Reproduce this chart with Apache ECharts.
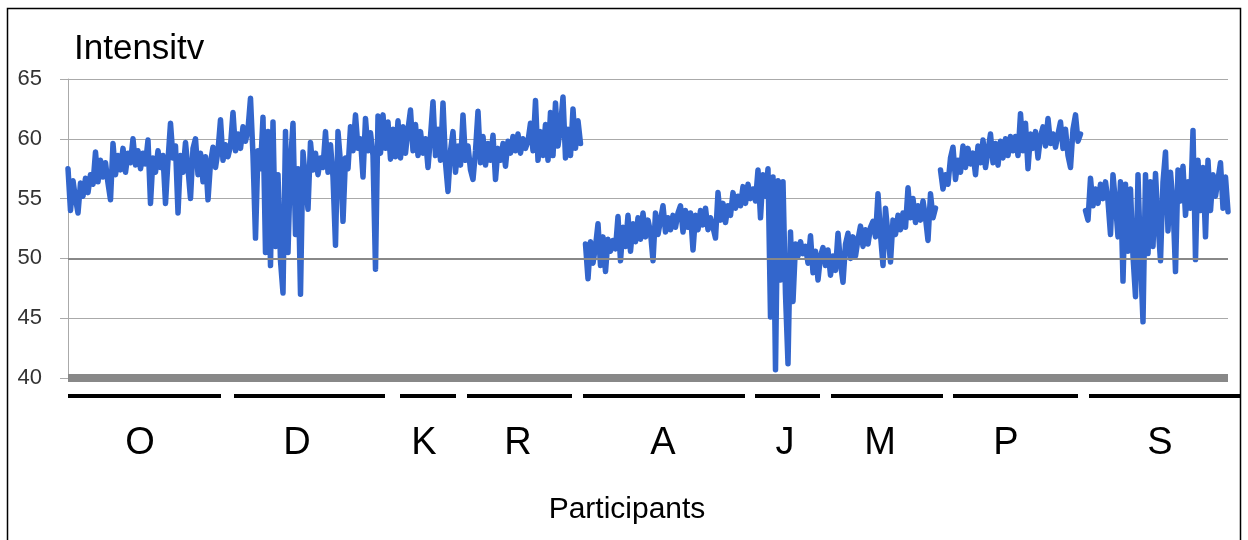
<!DOCTYPE html>
<html>
<head>
    <meta charset="utf-8">
    <title>Intensity</title>
    <script src="https://cdn.jsdelivr.net/npm/echarts@6/dist/echarts.min.js"></script>
    <style>
        html, body { margin: 0; padding: 0; background: #fff; }
        #main { width: 1248px; height: 540px; }
    </style>
</head>
<body>
<div id="main"></div>
<script type="text/javascript">

    // intensity per sample, one array per participant (null = gap between recordings)
    var oValues = [57.5, 54.0, 56.5, 55.0, 53.8, 56.3, 55.2, 56.7, 55.5, 57.0,
        56.2, 58.9, 56.4, 58.2, 56.8, 58.0, 56.3, 54.9, 59.6, 57.0,
        58.6, 57.4, 59.2, 57.2, 58.8, 58.0, 60.0, 57.8, 59.0, 57.5,
        58.8, 57.9, 59.9, 54.6, 58.4, 57.2, 59.0, 57.6, 58.6, 54.6,
        58.2, 61.3, 58.4, 59.4, 53.8, 58.6, 57.2, 59.7, 57.5, 55.0,
        59.2, 60.0, 57.0, 58.8, 56.4, 58.5, 54.9, 58.0, 59.3, 57.6,
        59.0, 61.6, 58.2, 59.5];
    var dValues = [58.5, 59.4, 62.2, 59.0, 60.4, 59.2, 61.0, 59.8, 60.8, 63.4,
        58.6, 51.7, 59.0, 57.5, 61.8, 50.5, 60.6, 49.4, 61.4, 51.0,
        57.0, 49.8, 47.1, 60.6, 50.5, 58.0, 61.3, 52.0, 57.5, 47.0,
        58.9, 56.5, 54.1, 59.7, 57.4, 58.8, 57.0, 58.4, 57.6, 60.6,
        57.2, 59.5, 56.8, 51.1, 60.6, 58.0, 53.1, 58.4, 57.5, 61.0,
        59.0, 62.0, 59.2, 60.0, 56.8, 61.7, 59.0, 60.5, 58.6, 49.1,
        61.9, 58.8, 62.0, 59.2, 61.4, 58.3, 60.8, 58.5];
    var kValues = [61.5, 58.4, 61.0, 58.8, 60.8, 62.4, 59.0, 61.2, 58.6, 60.6,
        58.8, 60.0, 57.6, 60.2, 63.1, 58.6, 60.8, 58.2, 63.0, 58.0,
        55.6, 59.0, 60.6, 57.2, 59.4, 57.8];
    var rValues = [62.0, 58.2, 59.4, 57.4, 56.6, 59.0, 62.3, 58.0, 60.2, 57.8,
        59.6, 58.2, 60.3, 56.6, 59.2, 58.2, 59.6, 57.7, 59.8, 58.8,
        60.2, 59.0, 60.4, 58.8, 60.0, 59.2, 59.8, 61.3, 59.0, 63.2,
        58.2, 60.6, 58.6, 61.2, 58.2, 62.2, 58.6, 63.0, 59.4, 61.0,
        63.5, 58.4, 60.8, 58.6, 62.5, 59.2, 61.5, 59.6];
    var aValues = [51.2, 48.3, 51.4, 49.6, 51.0, 52.9, 49.4, 51.8, 48.9, 51.6,
        50.6, 51.5, 50.8, 53.5, 49.8, 52.6, 51.0, 53.6, 50.6, 52.9,
        51.4, 53.4, 51.6, 53.8, 51.8, 53.2, 52.2, 49.8, 53.8, 52.0,
        53.2, 54.4, 52.2, 53.4, 52.4, 53.6, 52.6, 53.8, 54.4, 52.2,
        54.0, 52.6, 53.8, 50.7, 53.6, 52.4, 54.0, 52.8, 54.2, 52.4,
        53.4, 52.6, 51.7, 55.5, 53.2, 54.6, 53.0, 54.4, 53.6, 55.5,
        54.2, 55.2, 54.4, 56.0, 54.6, 56.2, 55.0, 55.8];
    var jValues = [54.8, 57.4, 53.4, 57.0, 55.2, 57.5, 45.1, 56.8, 40.7, 56.5,
        48.2, 56.4, 47.0, 41.2, 52.2, 46.4, 51.2, 50.2, 51.4, 50.4,
        51.0, 49.6, 51.9, 48.8, 50.6, 48.2, 50.2, 50.9];
    var mValues = [49.4, 50.7, 48.6, 50.2, 49.0, 52.1, 49.6, 48.0, 51.2, 52.1,
        50.0, 51.8, 50.2, 51.6, 52.7, 51.0, 52.4, 51.2, 52.6, 53.1,
        51.8, 55.4, 52.0, 49.4, 54.2, 52.0, 49.7, 53.2, 52.0, 53.6,
        52.4, 53.8, 52.6, 55.9, 53.4, 55.0, 53.0, 54.4, 53.2, 54.8,
        53.4, 51.5, 55.4, 53.4, 54.2];
    var pValues = [57.4, 55.8, 57.0, 56.2, 58.4, 59.3, 56.6, 58.2, 57.2, 59.4,
        57.6, 59.2, 57.9, 58.8, 57.0, 59.4, 58.0, 59.9, 57.6, 59.0,
        60.4, 58.0, 59.6, 57.8, 59.8, 58.4, 60.0, 58.6, 60.2, 59.0,
        60.2, 58.6, 62.1, 59.0, 61.3, 57.5, 60.4, 59.2, 60.6, 58.4,
        60.2, 61.0, 59.4, 61.7, 59.6, 60.4, 59.3, 60.4, 61.4, 59.2,
        60.8, 58.6, 57.6, 60.8, 62.0, 59.8, 60.4];
    var sValues = [54.0, 53.2, 56.7, 54.4, 55.8, 54.6, 56.2, 55.0, 56.4, 54.8,
        52.0, 57.0, 54.6, 51.8, 56.4, 48.1, 56.2, 50.6, 55.8, 50.2,
        46.8, 57.0, 50.0, 44.7, 57.0, 50.4, 56.4, 51.0, 57.1, 53.0,
        49.8, 56.4, 58.9, 52.3, 57.2, 54.6, 48.9, 57.4, 54.8, 57.7,
        53.6, 56.4, 54.2, 60.7, 49.9, 58.2, 54.0, 57.6, 51.8, 58.2,
        54.0, 57.0, 55.2, 56.6, 58.0, 54.2, 56.8, 53.9];

    // participant brackets under the axis, in sample index units
    var participants = ['O', 'D', 'K', 'R', 'A', 'J', 'M', 'P', 'S'];
    var bracketStart = [0, 66.4, 132.8, 159.6, 206, 274.8, 305.2, 354, 408.4];
    var bracketEnd = [61.2, 126.8, 155.2, 201.6, 270.8, 300.8, 350, 404, 469.2];
    var labelAt = [28.8, 91.6, 142.4, 180, 238, 286.8, 324.8, 375.2, 436.8];

    var yTicks = [40, 45, 50, 55, 60, 65];

    var intensity = [].concat(oValues, dValues, kValues, rValues, [null],
        aValues, jValues, mValues, [null], pValues, [null], sValues);
    var xIndex = intensity.map(function (v, i) { return i; });
    var lastIndex = intensity.length - 1;

    var bracketData = participants.map(function (p, i) {
        return [bracketStart[i], bracketEnd[i], labelAt[i], 40];
    });

    var FONT = '"Liberation Sans", Arial, sans-serif';

    var myChart = echarts.init(document.getElementById('main'));

    var option = {
        animation: false,
        title: {
            text: 'Intensitv',
            left: 69,
            top: 27,
            textStyle: { fontFamily: FONT, fontSize: 35, fontWeight: 'normal', color: '#000' }
        },
        grid: { left: 68, right: 20, top: 79, bottom: 162 },
        xAxis: [{
            type: 'category',
            data: xIndex,
            boundaryGap: false,
            axisLine: { show: true, lineStyle: { color: '#888', width: 8, cap: 'butt' } },
            axisTick: { show: false },
            axisLabel: { show: false },
            splitLine: { show: false }
        }, {
            type: 'value',
            min: 0,
            max: lastIndex,
            show: false
        }],
        yAxis: {
            type: 'value',
            min: yTicks[0],
            max: yTicks[yTicks.length - 1],
            interval: 5,
            axisLine: { show: true, lineStyle: { color: '#aaa', width: 1 } },
            axisTick: { show: true, length: 8, lineStyle: { color: '#aaa' } },
            axisLabel: { fontFamily: FONT, fontSize: 22, color: '#333', margin: 26 },
            splitLine: { show: true, lineStyle: { color: '#aaa', width: 1 } }
        },
        graphic: [{
            type: 'rect',
            shape: { x: 7.5, y: 8.5, width: 1233, height: 545 },
            style: { fill: null, stroke: '#000', lineWidth: 1.5 },
            silent: true
        }, {
            type: 'text',
            x: 627,
            y: 510,
            style: {
                text: 'Participants', fill: '#000', font: '30px ' + FONT,
                align: 'center', verticalAlign: 'middle'
            }
        }],
        series: [{
            type: 'line',
            data: intensity,
            showSymbol: false,
            connectNulls: false,
            lineStyle: { color: '#3366cc', width: 5.5, join: 'round', cap: 'round' },
            itemStyle: { color: '#3366cc' },
            markLine: {
                silent: true,
                symbol: 'none',
                label: { show: false },
                lineStyle: { color: '#888', width: 2, type: 'solid' },
                data: [{ yAxis: 50 }]
            },
            z: 3
        }, {
            type: 'custom',
            xAxisIndex: 1,
            clip: false,
            silent: true,
            data: bracketData,
            encode: { x: [0, 1, 2], y: 3 },
            renderItem: function (params, api) {
                var s = api.coord([api.value(0), api.value(3)]);
                var e = api.coord([api.value(1), api.value(3)]);
                var c = api.coord([api.value(2), api.value(3)]);
                return {
                    type: 'group',
                    children: [{
                        type: 'line',
                        shape: { x1: s[0], y1: s[1] + 18, x2: e[0], y2: s[1] + 18 },
                        style: { stroke: '#000', lineWidth: 4 }
                    }, {
                        type: 'text',
                        style: {
                            text: participants[params.dataIndex],
                            x: c[0], y: s[1] + 66,
                            align: 'center', verticalAlign: 'middle',
                            font: '38px ' + FONT, fill: '#000'
                        }
                    }]
                };
            }
        }]
    };

    myChart.setOption(option);

</script>
</body>
</html>
